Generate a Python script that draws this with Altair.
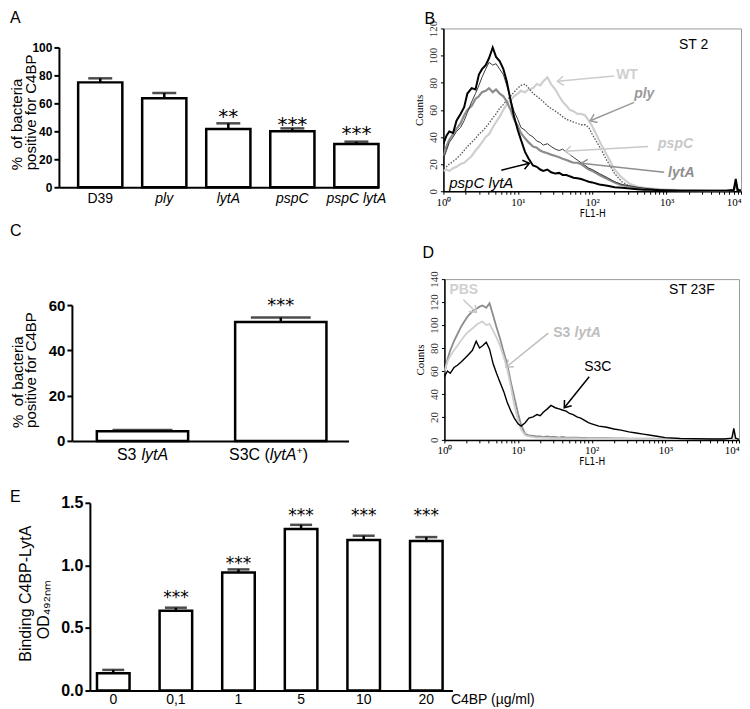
import math
import altair as alt
import pandas as pd

SANS = "Liberation Sans, Arial, Helvetica, sans-serif"
SERIF = "Liberation Serif, Times New Roman, serif"
NARROW = "Liberation Sans Narrow, Arial Narrow, DejaVu Sans Condensed, sans-serif"
STAR = "DejaVu Sans, sans-serif"

# ---------------- Panel A ----------------
a_strains = ["D39", "ply", "lytA", "pspC", "pspC lytA"]
a_values = [75.0, 63.6, 41.7, 40.0, 31.0]
a_upper = [77.9, 67.4, 45.7, 42.1, 32.6]
a_stars = ["", "", "**", "***", "***"]
a_star_y = [0, 0, 54.8, 49.0, 42.0]

# ---------------- Panel C ----------------
c_strains = ["S3 lytA", "S3C (lytA+)"]
c_values = [4.3, 52.5]
c_upper = [4.8, 54.5]
c_stars = ["", "***"]
c_star_y = [0, 61.8]

# ---------------- Panel E ----------------
e_conc = ["0", "0,1", "1", "5", "10", "20"]
e_values = [0.138, 0.638, 0.944, 1.290, 1.202, 1.194]
e_upper = [0.165, 0.662, 0.968, 1.324, 1.237, 1.226]
e_stars = ["", "***", "***", "***", "***", "***"]
e_star_y = [0, 0.782, 1.048, 1.436, 1.436, 1.436]

# ---------------- Panels B / D (flow cytometry histograms) ----------------
fl1_h = [1.0, 1.1, 1.2, 1.35, 1.5, 1.7, 1.9, 2.1, 2.4, 2.7, 3.0, 3.3, 3.7, 4.1, 4.6,
         5.1, 5.7, 6.4, 7.1, 8.0, 8.9, 10, 11, 12.5, 14, 16, 18, 20, 22, 25,
         28, 32, 36, 40, 45, 50, 56, 63, 71, 80, 90, 100, 125, 160, 200,
         250, 320, 400, 500, 630, 800, 1000, 1600, 2500, 4000, 6300, 8000, 8500, 9000, 10000]

b_wt = [15, 16, 15, 17, 18, 20, 21, 23, 26, 30, 33, 36, 40, 42, 47,
        51, 55, 60, 64, 67, 70, 72, 74, 73, 75, 76, 79, 78, 81, 84,
        79, 75, 70, 66, 63, 60, 59, 57, 57, 56, 52, 48, 37, 26, 16,
        10, 5.5, 3.5, 2.5, 2, 1.5, 1.2, 0.8, 0.6, 0.5, 0.5, 1, 7, 1, 0.5]
b_ply = [17, 18, 20, 22, 24, 27, 30, 33, 36, 39, 42, 44, 47, 50, 54,
         57, 61, 64, 67, 70, 73, 76, 78, 79, 76, 72, 70, 68, 66, 63,
         61, 59, 57, 55, 53, 52, 51, 50, 49, 49, 47, 42, 33, 22, 13,
         7, 3.5, 2, 1.5, 1, 0.8, 0.6, 0.4, 0.3, 0.3, 0.3, 0.6, 4, 0.6, 0.3]
b_lyta = [26, 33, 38, 42, 46, 50, 56, 60, 63, 68, 70, 73, 74, 76, 73,
          75, 72, 70, 66, 60, 53, 48, 43, 39, 36, 33, 32, 30, 29, 28,
          27, 26, 25, 24, 23, 22, 21, 21, 20, 18, 16, 15, 12, 9, 6.5,
          4.5, 3.5, 2.5, 2, 1.5, 1, 0.8, 0.5, 0.4, 0.3, 0.3, 0.8, 5, 0.8, 0.4]
b_pspc = [24, 30, 36, 40, 44, 47, 52, 58, 66, 72, 78, 84, 90, 95, 93,
          94, 90, 86, 78, 68, 59, 53, 47, 45, 42, 40, 37, 36, 34, 35,
          33, 31, 30, 31, 29, 27, 25, 23, 21, 19, 17, 16, 13, 10, 7,
          5, 4, 3, 2.2, 1.5, 1, 0.8, 0.5, 0.4, 0.3, 0.3, 0.8, 6, 0.8, 0.4]
b_pspc_lyta = [35, 41, 44, 43, 52, 57, 62, 72, 76, 75, 86, 90, 93, 98, 106,
               99, 96, 90, 81, 67, 55, 45, 38, 29, 24, 19, 18, 16, 15, 16,
               14, 13, 13.5, 12, 12, 11, 10, 9.5, 9, 8, 7, 6.5, 5, 4, 3,
               2.5, 2, 1.5, 1, 1, 0.8, 0.6, 0.4, 0.3, 0.3, 0.3, 1, 9, 1, 0.5]

d_pbs = [60, 68, 73, 78, 82, 87, 91, 94, 97, 100, 102, 103, 100, 101, 95,
         89, 82, 72, 62, 46, 30, 17, 9, 4, 3, 2.5, 2, 2, 1.8, 1.8,
         1.6, 1.5, 1.5, 1.4, 1.3, 1.3, 1.2, 1.2, 1.1, 1.1, 1, 1, 1, 1, 0.9,
         0.9, 0.8, 0.8, 0.8, 0.7, 0.7, 0.6, 0.5, 0.4, 0.4, 0.4, 0.8, 4, 0.8, 0.4]
d_s3_lyta = [58, 70, 78, 86, 92, 99, 104, 108, 112, 114, 116, 117, 115, 119, 108,
             98, 88, 76, 66, 50, 37, 23, 13, 5, 4, 3.5, 3, 3, 2.5, 3,
             2.5, 2.5, 2, 2.5, 2, 2, 2, 2, 1.8, 1.8, 1.5, 1.5, 1.5, 1.5, 1.2,
             1.2, 1, 1, 1, 1, 0.8, 0.8, 0.6, 0.5, 0.5, 0.5, 1, 6, 1, 0.5]
d_s3c = [55, 60, 58, 63, 65, 68, 71, 74, 78, 86, 80, 82, 85, 79, 66,
         58, 50, 42, 33, 25, 19, 14, 12, 15, 19, 20, 22, 21, 24, 27,
         30, 28, 27, 26, 25, 23, 22, 20, 19, 17, 15, 14, 12, 11, 9.5,
         8.5, 7, 6, 5, 4, 3, 2, 1.2, 1, 0.8, 0.8, 1.5, 10, 1.5, 0.5]

# annotation texts and arrows (data units)
b_label_text = ["ST 2", "WT", "ply", "pspC", "lytA", "pspC lytA"]
b_label_x = [1470, 210, 366, 768, 1047, 1.2]
b_label_y = [107.5, 86, 72, 34.6, 13.2, 5.9]
b_arrow_x1 = [197, 366, 564, 925, 6.0]
b_arrow_y1 = [85, 65.5, 33, 14, 15.5]
b_arrow_x2 = [34, 94, 43, 71, 14.3]
b_arrow_y2 = [81, 52, 29.5, 20.6, 20.6]

d_label_text = ["ST 23F", "PBS", "S3", "lytA", "S3C"]
d_label_x = [1125, 1.17, 30, 58.5, 79]
d_label_y = [130.4, 130.4, 93.5, 93.5, 63.5]
d_arrow_x1 = [1.81, 25.7, 92.5]
d_arrow_y1 = [122, 93, 55]
d_arrow_x2 = [2.72, 6.93, 42.4]
d_arrow_y2 = [111, 63.5, 28]

# styles (kept apart from the data)
b_label_style = [("black", "normal", "normal", 14), ("#d0d0d0", "bold", "normal", 14),
                 ("#9a9a9a", "bold", "italic", 14), ("#c8c8c8", "bold", "italic", 14),
                 ("#8e8e8e", "bold", "italic", 14), ("black", "normal", "italic", 15)]
b_arrow_color = ["#cccccc", "#9a9a9a", "#c8c8c8", "#8e8e8e", "black"]
d_label_style = [("black", "normal", "normal", 14), ("#d0d0d0", "bold", "normal", 14),
                 ("#bdbdbd", "bold", "normal", 14), ("#bdbdbd", "bold", "italic", 14),
                 ("black", "normal", "normal", 14)]
d_arrow_color = ["#c8c8c8", "#bdbdbd", "black"]

CHEVRON = "M -1 -0.75 L 0 0 L -1 0.75"


def spacer():
    return (alt.Chart(pd.DataFrame({"s": pd.Series([], dtype="float")}))
            .mark_point(opacity=0, size=0)
            .encode(x=alt.value(0), y=alt.value(0))
            .properties(width=1, height=1, view=alt.ViewBackground(stroke=None)))


def box(L, T, R, B):
    # invisible rule fixing the panel's bounding box (relative to its plot origin)
    return (alt.Chart(pd.DataFrame({"b": [0]}))
            .mark_rule(opacity=0, strokeWidth=0.1, color="white")
            .encode(x=alt.value(L), y=alt.value(T), x2=alt.value(R), y2=alt.value(B)))


def letter(t, dx, dy):
    return (alt.Chart(pd.DataFrame({"t": [t]}))
            .mark_text(font=SANS, fontSize=16, align="left", baseline="top", color="black")
            .encode(x=alt.value(dx), y=alt.value(dy), text="t:N"))


def vtext(t, dx, dy, size, align="left"):
    return (alt.Chart(pd.DataFrame({"t": [t]}))
            .mark_text(font=SANS, fontSize=size, angle=270, align=align,
                       baseline="alphabetic", color="black")
            .encode(x=alt.value(dx), y=alt.value(dy), text="t:N"))


def bar_panel(cats, vals, upper, stars, star_y, ymax, yvals, yfmt,
              xscale, xaxis, ylabel_size, cap, star_size):
    df = pd.DataFrame({"cat": cats, "v": vals, "u": upper, "s": stars, "sy": star_y})
    yscale = alt.Scale(domain=[0, ymax], nice=False)
    yaxis = alt.Axis(values=yvals, format=yfmt, grid=False, domainColor="black", domainWidth=2,
                     tickColor="black", tickWidth=2, tickSize=5, labelFont=SANS,
                     labelFontWeight="bold", labelFontSize=ylabel_size, labelColor="black",
                     labelPadding=2, title=None)

    def X():
        return alt.X("cat:N", sort=cats, title=None, scale=xscale, axis=xaxis)

    def Y(f):
        return alt.Y(f + ":Q", scale=yscale, axis=yaxis)

    bars = alt.Chart(df).mark_bar(fill="white", stroke="black", strokeWidth=2.5).encode(x=X(), y=Y("v"))
    err = alt.Chart(df).mark_rule(color="black", strokeWidth=2.5).encode(x=X(), y=Y("v"), y2="u:Q")
    caps = alt.Chart(df).mark_tick(color="black", thickness=2.5, size=cap, orient="horizontal").encode(x=X(), y=Y("u"))
    st = (alt.Chart(df).mark_text(font=STAR, fontSize=star_size, baseline="alphabetic",
                                  dy=round(0.58 * star_size), color="black")
          .encode(x=X(), y=Y("sy"), text="s:N"))
    return [bars, err, caps, st], X


# ---------------- build A ----------------
A_W, A_H = 320, 140
xaxisA = alt.Axis(labelAngle=0, ticks=False, domainColor="black", domainWidth=2, labelFont=SANS,
                  labelFontSize=14, labelColor="black", labelPadding=4, labelOverlap=False,
                  labelFontStyle={"condition": {"test": "datum.value == 'D39'", "value": "normal"},
                                  "value": "italic"})
layersA, XA = bar_panel(a_strains, a_values, a_upper, a_stars, a_star_y, 100,
                        [0, 20, 40, 60, 80, 100], "d",
                        alt.Scale(paddingInner=0.31, paddingOuter=0.15, align=1), xaxisA, 12, 24, 20)
chartA = alt.layer(box(-50, -38, 342, 170), *layersA,
                   vtext("%\u00a0 of bacteria", -37, 123, 15),
                   vtext("positive for C4BP", -23, 123, 15),
                   letter("A", -49, -37)).properties(width=A_W, height=A_H,
                                                     view=alt.ViewBackground(stroke=None))

# ---------------- build C ----------------
C_W, C_H = 277, 136
xaxisC = alt.Axis(labels=False, ticks=False, domainColor="black", domainWidth=2)
layersC, XC = bar_panel(c_strains, c_values, c_upper, c_stars, c_star_y, 60,
                        [0, 20, 40, 60], "d",
                        alt.Scale(paddingInner=0.34, paddingOuter=0.17, align=0.53), xaxisC, 15, 60, 18)
dfCl = pd.DataFrame({"cat": c_strains})


def c_label(text, which, style, align, dx, dy=0, size=16):
    d = dfCl[dfCl["cat"] == c_strains[which]].assign(t=text)
    return (alt.Chart(d).mark_text(font=SANS, fontSize=size, fontStyle=style, align=align,
                                   baseline="alphabetic", dx=dx, dy=dy, color="black")
            .encode(x=XC(), y=alt.value(C_H + 19), text="t:N"))


chartC = alt.layer(box(-63, -85, 329, 164), *layersC,
                   c_label("S3", 0, "normal", "right", -6),
                   c_label("lytA", 0, "italic", "left", -1),
                   c_label("S3C (", 1, "normal", "right", -11),
                   c_label("lytA", 1, "italic", "left", -11),
                   c_label("+", 1, "normal", "left", 16, -6, 10),
                   c_label(")", 1, "normal", "left", 22),
                   vtext("%\u00a0 of bacteria", -49, 123, 15),
                   vtext("positive for C4BP", -36, 123, 15),
                   letter("C", -62, -82)).properties(width=C_W, height=C_H,
                                                     view=alt.ViewBackground(stroke=None))

# ---------------- build E ----------------
E_W, E_H = 363, 188
xaxisE = alt.Axis(labelAngle=0, ticks=False, domainColor="black", domainWidth=2, labelFont=SANS,
                  labelFontSize=14, labelColor="black", labelPadding=2, labelOverlap=False,
                  title="C4BP (\u00b5g/ml)", titleX=361, titleY=2, titleAlign="left",
                  titleBaseline="top", titleFont=SANS, titleFontSize=14, titleFontWeight="normal",
                  titleColor="black")
layersE, XE = bar_panel(e_conc, e_values, e_upper, e_stars, e_star_y, 1.5,
                        [0, 0.5, 1.0, 1.5], ".1f",
                        alt.Scale(paddingInner=0.48, paddingOuter=0.135, align=0.42), xaxisE, 16, 22, 17)
chartE = alt.layer(box(-81, -31, 471, 204), *layersE,
                   vtext("Binding C4BP-LytA", -59, 91, 16, "center"),
                   vtext("OD\u2084\u2089\u2082\u2099\u2098", -41, 107, 16, "center"),
                   letter("E", -80, -14)).properties(width=E_W, height=E_H,
                                                     view=alt.ViewBackground(stroke=None))

# ---------------- FACS panels ----------------
minor = [m * 10 ** e for e in range(4) for m in range(1, 10)] + [10000]
sup_expr = ("datum.value == 1 ? '10\u2070' : datum.value == 10 ? '10\u00b9' : "
            "datum.value == 100 ? '10\u00b2' : datum.value == 1000 ? '10\u00b3' : "
            "datum.value == 10000 ? '10\u2074' : ''")


def facs_panel(width, height, ymax, curves, ltext, lx, ly, lstyle, ax1, ay1, ax2, ay2, acolor,
               let, let_dx, let_dy, bbox):
    xscale = alt.Scale(type="log", domain=[1, 10000], nice=False)
    yscale = alt.Scale(domain=[0, ymax], nice=False)
    xaxis = alt.Axis(values=minor, labelExpr=sup_expr, tickSize=3, tickColor="black", tickWidth=1,
                     domainColor="black", domainWidth=1.5, labelFont=SERIF, labelFontSize=11,
                     labelColor="black", labelPadding=2, labelOverlap=False, labelFlush=False,
                     labelAlign={"condition": {"test": "datum.value == 10000", "value": "right"},
                                 "value": "center"},
                     grid=False, title="FL1-H", titleFont=NARROW, titleFontSize=10,
                     titleFontWeight="normal", titleColor="black", titlePadding=1)
    yaxis = alt.Axis(values=list(range(0, ymax + 1, 20)), labelAngle=270, labelAlign="center",
                     labelBaseline="bottom", labelFont=SERIF, labelFontSize=11, labelColor="#333333",
                     labelPadding=2, tickSize=3, tickColor="black", domainColor="black",
                     domainWidth=1.5, grid=False, title="Counts", titleFont=SERIF, titleFontSize=11,
                     titleFontWeight="normal", titleColor="black", titlePadding=3)

    def X(f):
        return alt.X(f + ":Q", scale=xscale, axis=xaxis)

    def Y(f):
        return alt.Y(f + ":Q", scale=yscale, axis=yaxis)

    layers = [box(*bbox)]
    for ys, color, sw, dash in curves:
        df = pd.DataFrame({"x": fl1_h, "y": ys})
        kw = dict(color=color, strokeWidth=sw, clip=True)
        if dash:
            kw["strokeDash"] = dash
        layers.append(alt.Chart(df).mark_line(**kw).encode(x=X("x"), y=Y("y")))

    def px(x):
        return math.log10(x) / 4 * width

    def py(y):
        return height - y / ymax * height

    for i in range(len(ax1)):
        d = pd.DataFrame({"x1": [ax1[i]], "y1": [ay1[i]], "x2": [ax2[i]], "y2": [ay2[i]]})
        ang = math.degrees(math.atan2(py(ay2[i]) - py(ay1[i]), px(ax2[i]) - px(ax1[i]))) % 360
        d["ang"] = ang
        layers.append(alt.Chart(d).mark_rule(color=acolor[i], strokeWidth=1.5)
                      .encode(x=X("x1"), y=Y("y1"), x2="x2:Q", y2="y2:Q"))
        layers.append(alt.Chart(d).mark_point(shape=CHEVRON, filled=False, size=150,
                                              strokeWidth=1.5, color=acolor[i], opacity=1)
                      .encode(x=X("x2"), y=Y("y2"), angle=alt.Angle("ang:Q", scale=None)))

    for i in range(len(ltext)):
        color, weight, style, size = lstyle[i]
        d = pd.DataFrame({"x": [lx[i]], "y": [ly[i]], "t": [ltext[i]]})
        layers.append(alt.Chart(d).mark_text(font=SANS, fontSize=size, fontWeight=weight,
                                             fontStyle=style, color=color, align="left",
                                             baseline="middle")
                      .encode(x=X("x"), y=Y("y"), text="t:N"))
    layers.append(letter(let, let_dx, let_dy))
    return alt.layer(*layers).properties(width=width, height=height,
                                         view=alt.ViewBackground(stroke="#9a9a9a", strokeWidth=1))


B_W, B_H = 298, 163
chartB = facs_panel(B_W, B_H, 120,
                    [(b_wt, "#cfcfcf", 2.2, None), (b_ply, "#555555", 1.3, [1.5, 1.5]),
                     (b_lyta, "#8c8c8c", 2.2, None), (b_pspc, "#3a3a3a", 1.0, None),
                     (b_pspc_lyta, "black", 2.0, None)],
                    b_label_text, b_label_x, b_label_y, b_label_style,
                    b_arrow_x1, b_arrow_y1, b_arrow_x2, b_arrow_y2, b_arrow_color,
                    "B", -19, -17, (-42, -18, 298, 190))

D_W, D_H = 295, 161
chartD = facs_panel(D_W, D_H, 140,
                    [(d_s3_lyta, "#8c8c8c", 1.8, None), (d_pbs, "#cfcfcf", 1.8, None),
                     (d_s3c, "black", 1.4, None)],
                    d_label_text, d_label_x, d_label_y, d_label_style,
                    d_arrow_x1, d_arrow_y1, d_arrow_x2, d_arrow_y2, d_arrow_color,
                    "D", -22, -34, (-43, -58, 297, 191))


# ---------------- layout ----------------
def wrap(panel):
    return alt.concat(spacer(), panel, columns=1, spacing=0, align="each")


def row(*panels):
    return alt.concat(spacer(), *[wrap(p) for p in panels], columns=1 + len(panels),
                      spacing=0, align="each")


chart = alt.concat(row(chartA, chartB), row(chartC, chartD), row(chartE),
                   columns=1, spacing=0, align="each").properties(
    padding=0, background="white"
).configure_view(stroke=None)

chart.save("out.html", embed_options={"renderer": "svg", "actions": False})
